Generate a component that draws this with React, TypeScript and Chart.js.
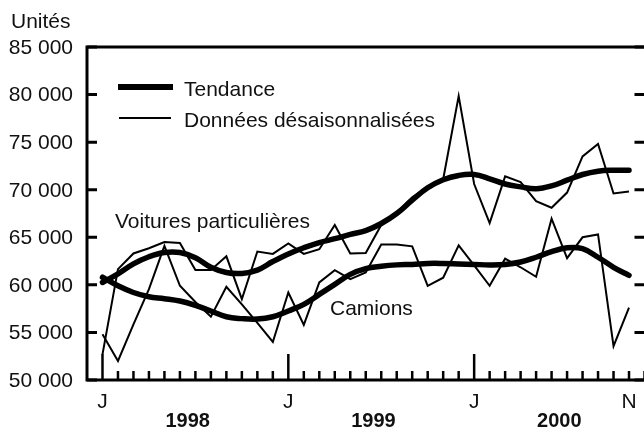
import React, { useEffect, useRef } from 'react';
import { Chart, registerables } from 'chart.js';

Chart.register(...registerables);

// Janvier 1998 .. novembre 2000 (35 mois)
const voituresBrut = [
  52700, 61650, 63300, 63850, 64500, 64400, 61550, 61550, 63000, 58500, 63500, 63250,
  64350, 63250, 63750, 66300, 63300, 63350, 66300, 67600, 69200, 70300, 71100, 79850,
  70600, 66500, 71400, 70800, 68800, 68100, 69700, 73500, 74800, 69600, 69800,
];
const voituresTendance = [
  60250, 61150, 62200, 62950, 63400, 63400, 62850, 61850, 61300, 61200, 61550, 62450,
  63250, 63900, 64450, 64850, 65300, 65700, 66450, 67500, 68900, 70200, 71050, 71500,
  71600, 71150, 70600, 70300, 70100, 70400, 71000, 71600, 71950, 72050, 72050,
];
const camionsBrut = [
  54800, 52000, 55850, 59550, 64100, 59900, 58200, 56650, 59800, 57950, 56000, 54000,
  59200, 55800, 60250, 61550, 60600, 61300, 64250, 64250, 64050, 59900, 60750, 64150,
  62050, 59900, 62750, 61850, 60850, 66950, 62800, 65000, 65300, 53550, 57600,
];
const camionsTendance = [
  60800, 59900, 59200, 58750, 58550, 58300, 57850, 57250, 56650, 56450, 56400, 56650,
  57250, 57950, 59000, 60050, 61100, 61700, 61950, 62100, 62150, 62250, 62250, 62200,
  62150, 62100, 62150, 62400, 62900, 63500, 63900, 63800, 62900, 61850, 61000,
];

const yTicks = [50000, 55000, 60000, 65000, 70000, 75000, 80000, 85000];
const xLabelIdx = [0, 12, 24, 34];
const xLabelTxt = ['J', 'J', 'J', 'N'];
const yearLabels = ['1998', '1999', '2000'];
const yearCenters = [5.5, 17.5, 29.5];
const majorMonths = [0, 12, 24];

const FONT = '"Liberation Sans", Arial, Helvetica, sans-serif';
const TEXT = '#111';

const fmt = (v: number) => {
  const s = String(v);
  return s.slice(0, s.length - 3) + ' ' + s.slice(s.length - 3);
};
const pts = (arr: number[]) => arr.map((y, i) => ({ x: i, y }));

const axesPlugin = {
  id: 'axesPlugin',
  afterDatasetsDraw(chart: any) {
    const ctx = chart.ctx;
    const xs = chart.scales.x;
    const ys = chart.scales.y;
    const a = chart.chartArea;
    ctx.save();
    ctx.strokeStyle = '#000';
    ctx.lineCap = 'butt';
    // frame
    ctx.lineWidth = 3;
    ctx.beginPath();
    ctx.moveTo(a.left, a.top);
    ctx.lineTo(chart.width, a.top);
    ctx.moveTo(a.left, a.top - 1.5);
    ctx.lineTo(a.left, a.bottom + 1.5);
    ctx.moveTo(a.left - 1.5, a.bottom);
    ctx.lineTo(chart.width, a.bottom);
    ctx.stroke();
    // y ticks (left and right, inward)
    yTicks.forEach((v) => {
      const py = ys.getPixelForValue(v);
      ctx.beginPath();
      ctx.moveTo(a.left, py);
      ctx.lineTo(a.left + 10, py);
      ctx.moveTo(a.right, py);
      ctx.lineTo(a.right - 10, py);
      ctx.stroke();
    });
    // x ticks
    ctx.lineWidth = 2.5;
    for (let i = 0; i <= 35; i++) {
      const px = xs.getPixelForValue(i);
      const major = majorMonths.indexOf(i) >= 0;
      ctx.beginPath();
      ctx.moveTo(px, a.bottom);
      ctx.lineTo(px, a.bottom - (major ? 26 : 9));
      ctx.stroke();
    }
    // y labels
    ctx.fillStyle = TEXT;
    ctx.font = `21px ${FONT}`;
    ctx.textAlign = 'right';
    ctx.textBaseline = 'middle';
    yTicks.forEach((v) => {
      ctx.fillText(fmt(v), 73, ys.getPixelForValue(v) + 1);
    });
    ctx.textAlign = 'left';
    ctx.fillText('Unités', 11, 22);
    // x labels
    ctx.textAlign = 'center';
    xLabelIdx.forEach((i, k) => {
      ctx.fillText(xLabelTxt[k], xs.getPixelForValue(i), 402);
    });
    ctx.font = `bold 20px ${FONT}`;
    yearLabels.forEach((t, k) => {
      ctx.fillText(t, xs.getPixelForValue(yearCenters[k]), 421);
    });
    // legend
    ctx.lineCap = 'butt';
    ctx.lineWidth = 6;
    ctx.beginPath();
    ctx.moveTo(118, 87);
    ctx.lineTo(173, 87);
    ctx.stroke();
    ctx.lineWidth = 2.2;
    ctx.beginPath();
    ctx.moveTo(119, 118);
    ctx.lineTo(171, 118);
    ctx.stroke();
    ctx.font = `21px ${FONT}`;
    ctx.textAlign = 'left';
    ctx.fillText('Tendance', 184, 90);
    ctx.fillText('Données désaisonnalisées', 184, 121.5);
    // series labels
    ctx.fillText('Voitures particulières', 115, 222);
    ctx.fillText('Camions', 330, 309);
    ctx.restore();
  },
};

export default function App() {
  const ref = useRef<HTMLCanvasElement | null>(null);
  useEffect(() => {
    if (!ref.current) return;
    const trend = (data: number[]) => ({
      data: pts(data),
      borderColor: '#000',
      borderWidth: 5.5,
      tension: 0.4,
      pointRadius: 0,
      borderCapStyle: 'round' as const,
      borderJoinStyle: 'round' as const,
      fill: false,
    });
    const raw = (data: number[]) => ({
      data: pts(data),
      borderColor: '#000',
      borderWidth: 2,
      tension: 0,
      pointRadius: 0,
      borderCapStyle: 'butt' as const,
      borderJoinStyle: 'miter' as const,
      fill: false,
    });
    const chart = new Chart(ref.current, {
      type: 'line',
      data: {
        datasets: [
          { label: 'Voitures tendance', ...trend(voituresTendance) },
          { label: 'Camions tendance', ...trend(camionsTendance) },
          { label: 'Voitures données', ...raw(voituresBrut) },
          { label: 'Camions données', ...raw(camionsBrut) },
        ],
      },
      options: {
        responsive: false,
        maintainAspectRatio: false,
        devicePixelRatio: 1,
        animation: false,
        layout: { padding: { left: 87, top: 47, right: 15.5, bottom: 53 } },
        plugins: { legend: { display: false }, tooltip: { enabled: false } },
        scales: {
          x: { type: 'linear', min: -1, max: 35, display: false },
          y: { type: 'linear', min: 50000, max: 85000, display: false },
        },
      },
      plugins: [axesPlugin],
    });
    return () => chart.destroy();
  }, []);
  return (
    <div style={{ position: 'fixed', left: 0, top: 0, width: 644, height: 433, overflow: 'hidden', background: '#fff' }}>
      <canvas ref={ref} width={660} height={433} style={{ width: 660, height: 433, display: 'block' }} />
    </div>
  );
}
